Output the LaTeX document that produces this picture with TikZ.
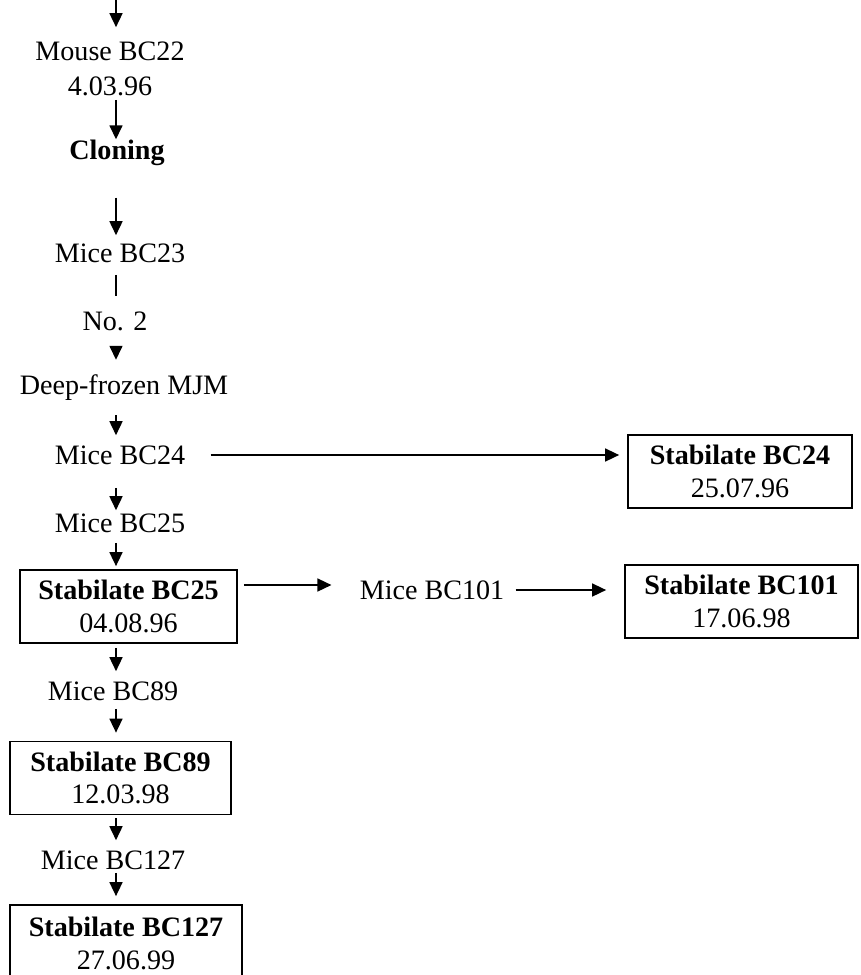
\documentclass[tikz,border=0pt]{standalone}
\usepackage{fontspec}
\setmainfont{Liberation Serif}
\usetikzlibrary{arrows.meta}

\begin{document}
\begin{tikzpicture}[x=0.02cm, y=-0.02cm,
    lbl/.style={inner sep=0pt, font=\fontsize{16pt}{18.5pt}\selectfont, align=center},
    stab/.style={lbl, draw, line width=1pt, minimum height=1.46cm},
    arr/.style={line width=0.9pt, -{Triangle[length=0.28cm, width=0.26cm]}}]
    \useasboundingbox (0,0) rectangle (860,975);
    \coordinate (spine) at (116,0);

    % Main column
    \node[lbl] (mouse) at (110,68.5) {Mouse BC22\\[1.4pt]4.03.96};
    \node[lbl] (cloning) at (117,152.5) {\textbf{Cloning}};
    \node[lbl] (mice23) at (120,253) {Mice BC23};
    \node[lbl] (no2) at (115,321) {No. 2};
    \node[lbl] (frozen) at (124,388) {Deep-frozen MJM};
    \node[lbl] (mice24) at (120,455) {Mice BC24};
    \node[lbl] (mice25) at (120,523) {Mice BC25};
    \node[stab, minimum width=4.34cm] (stab25) at (128.5,606.5) {\textbf{Stabilate BC25}\\04.08.96};
    \node[lbl] (mice89) at (113,691) {Mice BC89};
    \node[stab, minimum width=4.42cm] (stab89) at (120.5,778) {\textbf{Stabilate BC89}\\12.03.98};
    \node[lbl] (mice127) at (113,860) {Mice BC127};
    \node[stab, minimum width=4.64cm, minimum height=1.54cm] (stab127) at (126,943.5) {\textbf{Stabilate BC127}\\27.06.99};

    % Side branches
    \node[stab, minimum width=4.48cm] (stab24) at (740,471.5) {\textbf{Stabilate BC24}\\25.07.96};
    \node[lbl] (mice101) at (432,590) {Mice BC101};
    \node[stab, minimum width=4.66cm] (stab101) at (741.5,601.5) {\textbf{Stabilate BC101}\\17.06.98};

    % Vertical arrows
    \draw[arr, shorten >=0.28cm] (spine) -- (mouse.north -| spine);
    \foreach \a/\b/\s/\e in {mouse/cloning/0.08/0, cloning/mice23/0.64/0.16,
        no2/frozen/0.34/0.30, frozen/mice24/0.28/0.20, mice24/mice25/0.46/0.06,
        mice25/stab25/0.20/0.06, stab25/mice89/0.08/0.20, mice89/stab89/0.16/0.16,
        stab89/mice127/0.06/0.20, mice127/stab127/0.06/0.16}
        \draw[arr, shorten <=\s cm, shorten >=\e cm] (\a.south -| spine) -- (\b.north -| spine);
    \draw[line width=0.9pt, shorten <=0.24cm, shorten >=0.30cm] (mice23.south -| spine) -- (no2.north -| spine);

    % Horizontal arrows
    \draw[arr, shorten <=0.50cm, shorten >=0.16cm] (mice24.east) -- (mice24.east -| stab24.west);
    \draw[arr, shorten <=0.12cm, shorten >=0.56cm] ([yshift=0.1cm]stab25.east |- mice101.west) -- ([yshift=0.1cm]mice101.west);
    \draw[arr, shorten <=0.22cm, shorten >=0.36cm] (mice101.east) -- (mice101.east -| stab101.west);
\end{tikzpicture}
\end{document}
